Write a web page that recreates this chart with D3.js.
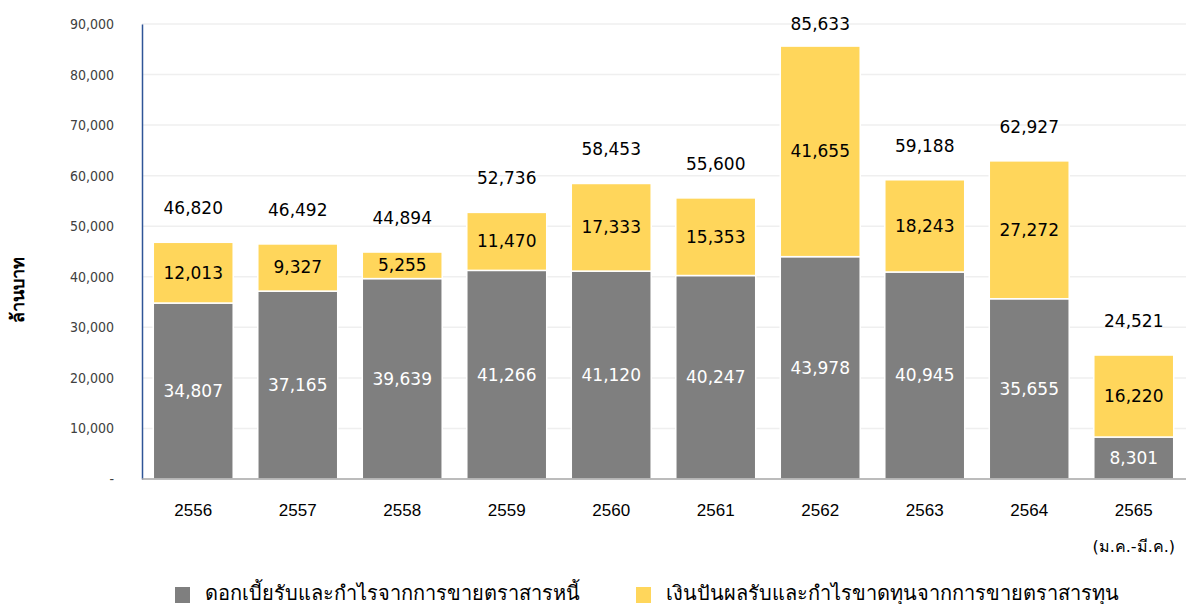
<!DOCTYPE html>
<html>
<head>
<meta charset="utf-8">
<script src="https://cdn.jsdelivr.net/npm/d3@7"></script>
<style>
  body { margin: 0; background: #fff; }
  svg { display: block; font-family: "DejaVu Sans", "Noto Sans", sans-serif; }
</style>
</head>
<body>
<div id="chart"></div>
<script>
const width = 1186;
const height = 604;
const margin = { top: 24, right: 0, bottom: 125, left: 142 };

const years = ["2556", "2557", "2558", "2559", "2560", "2561", "2562", "2563", "2564", "2565"];
const debtIncome = [34807, 37165, 39639, 41266, 41120, 40247, 43978, 40945, 35655, 8301];
const equityIncome = [12013, 9327, 5255, 11470, 17333, 15353, 41655, 18243, 27272, 16220];
const totals = [46820, 46492, 44894, 52736, 58453, 55600, 85633, 59188, 62927, 24521];
const yTicks = [0, 10000, 20000, 30000, 40000, 50000, 60000, 70000, 80000, 90000];
const seriesNames = ["ดอกเบี้ยรับและกำไรจากการขายตราสารหนี้", "เงินปันผลรับและกำไรขาดทุนจากการขายตราสารทุน"];
const seriesColors = ["#7f7f7f", "#ffd65b"];

const svg = d3.select("#chart")
  .append("svg")
  .attr("width", width)
  .attr("height", height);

const x = d3.scaleBand()
  .domain(years)
  .range([141, 1186])
  .paddingInner(0.235)
  .paddingOuter(0.1175);

const y = d3.scaleLinear()
  .domain([0, 90000])
  .range([479, margin.top]);

// gridlines
svg.append("g")
  .selectAll("line")
  .data(yTicks.slice(1))
  .enter()
  .append("line")
  .attr("x1", margin.left)
  .attr("x2", width)
  .attr("y1", d => y(d))
  .attr("y2", d => y(d))
  .attr("stroke", "#efefef")
  .attr("stroke-width", 1.5);

// y axis
const yAxis = svg.append("g")
  .attr("transform", `translate(${margin.left},0)`)
  .call(d3.axisLeft(y)
    .tickValues(yTicks)
    .tickSize(0)
    .tickPadding(28)
    .tickFormat(d => d === 0 ? "-" : d3.format(",")(d)));
yAxis.select(".domain").attr("stroke", "#2f5597").attr("stroke-width", 1.5);
yAxis.selectAll("text")
  .attr("fill", "#404040")
  .style("font-size", "14px")
  .style("font-family", "'DejaVu Sans Condensed', 'DejaVu Sans', sans-serif");

// stacked data
const rows = years.map((yr, i) => ({ year: yr, debt: debtIncome[i], equity: equityIncome[i], total: totals[i] }));
const stack = d3.stack().keys(["debt", "equity"]);
const layers = stack(rows);

const layerG = svg.append("g")
  .selectAll("g")
  .data(layers)
  .enter()
  .append("g")
  .attr("fill", (d, i) => seriesColors[i]);

layerG.selectAll("rect")
  .data(d => d)
  .enter()
  .append("rect")
  .attr("x", d => x(d.data.year))
  .attr("y", d => y(d[1]))
  .attr("width", x.bandwidth())
  .attr("height", d => y(d[0]) - y(d[1]))
  .attr("stroke", "#fff")
  .attr("stroke-width", 1.5);

// segment labels, centred in each segment
layers.forEach((layer, li) => {
  svg.append("g")
    .selectAll("text")
    .data(layer)
    .enter()
    .append("text")
    .attr("x", d => x(d.data.year) + x.bandwidth() / 2)
    .attr("y", d => (y(d[0]) + y(d[1])) / 2)
    .attr("dy", "0.35em")
    .attr("text-anchor", "middle")
    .attr("fill", li === 0 ? "#fff" : "#000")
    .style("font-size", "17px")
    .text(d => d3.format(",")(d[1] - d[0]));
});

// x axis
const xAxis = svg.append("g")
  .attr("transform", "translate(0,479)")
  .call(d3.axisBottom(x).tickSize(0).tickPadding(25));
xAxis.select(".domain")
  .attr("d", `M${margin.left},0H${width}`)
  .attr("stroke", "#a6a6a6")
  .attr("stroke-width", 1.5);
xAxis.selectAll("text")
  .attr("fill", "#000")
  .style("font-size", "17px");

svg.append("text")
  .attr("x", x("2565") + x.bandwidth() / 2)
  .attr("y", 546)
  .attr("dy", "0.35em")
  .attr("text-anchor", "middle")
  .style("font-size", "16px")
  .text("(ม.ค.-มี.ค.)");

// total labels
svg.append("g")
  .selectAll("text")
  .data(rows)
  .enter()
  .append("text")
  .attr("x", d => x(d.year) + x.bandwidth() / 2)
  .attr("y", d => Math.max(y(d.total) - 34, 24))
  .attr("dy", "0.35em")
  .attr("text-anchor", "middle")
  .attr("fill", "#000")
  .style("font-size", "17px")
  .text(d => d3.format(",")(d.total));

// y title
svg.append("text")
  .attr("transform", "translate(18,290) rotate(-90)")
  .attr("text-anchor", "middle")
  .attr("dy", "0.35em")
  .style("font-size", "18px")
  .style("font-weight", "bold")
  .text("ล้านบาท");

// legend
const legendX = [175, 636];
const legend = svg.append("g")
  .selectAll("g")
  .data(seriesNames)
  .enter()
  .append("g")
  .attr("transform", (d, i) => `translate(${legendX[i]},587)`);

legend.append("rect")
  .attr("width", 15)
  .attr("height", 16)
  .attr("fill", (d, i) => seriesColors[i]);

legend.append("text")
  .attr("x", 30)
  .attr("y", 6)
  .attr("dy", "0.35em")
  .style("font-size", "20px")
  .attr("fill", "#000")
  .text(d => d);
</script>
</body>
</html>
